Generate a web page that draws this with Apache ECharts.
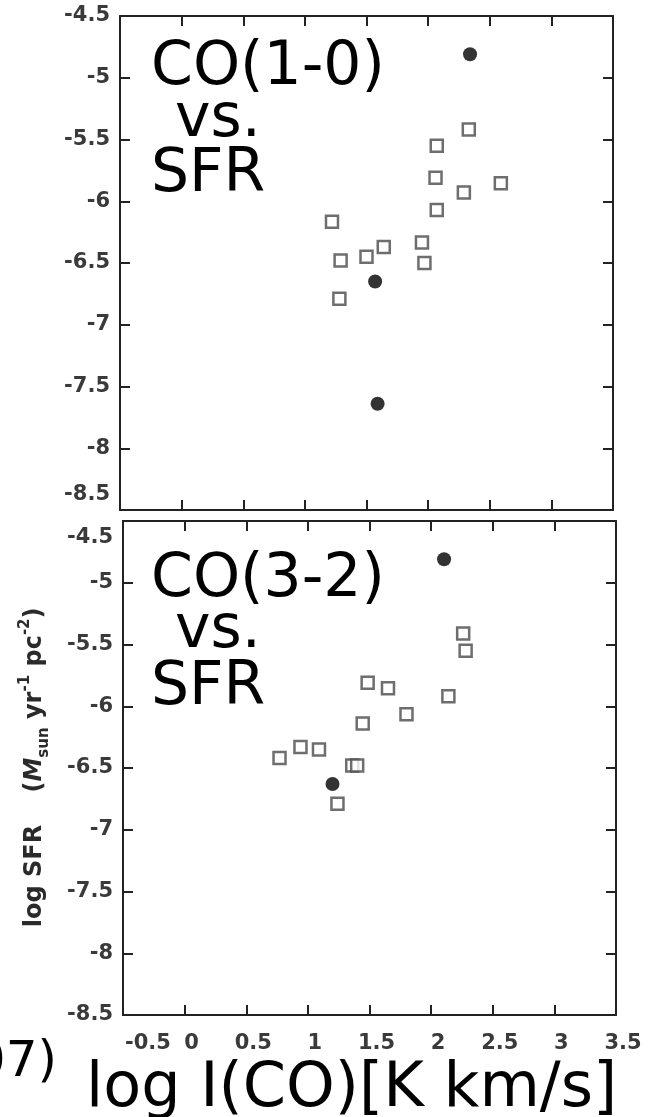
<!DOCTYPE html>
<html>
<head>
<meta charset="utf-8">
<script src="https://cdn.jsdelivr.net/npm/echarts@6/dist/echarts.min.js"></script>
<style>html,body{margin:0;padding:0;background:#fff}#c{width:655px;height:1117px}</style>
</head>
<body>
<div id="c"></div>
<script>
// ---- data (log I(CO) [K km/s], log SFR) ----
const co10Squares = [[2.33,-5.42],[2.07,-5.55],[2.06,-5.81],[2.29,-5.93],[2.59,-5.855],[2.07,-6.07],[1.22,-6.165],[1.95,-6.335],[1.97,-6.50],[1.64,-6.37],[1.50,-6.45],[1.29,-6.48],[1.28,-6.79]];
const co10Circles = [[2.34,-4.81],[1.57,-6.65],[1.59,-7.64]];
const co32Squares = [[0.77,-6.42],[0.94,-6.33],[1.09,-6.35],[1.445,-6.14],[1.485,-5.81],[1.65,-5.855],[1.80,-6.065],[2.14,-5.92],[2.26,-5.41],[2.28,-5.55],[1.36,-6.48],[1.40,-6.48],[1.24,-6.79]];
const co32Circles = [[2.105,-4.81],[1.20,-6.63]];
const xTicks = [-0.5,0,0.5,1,1.5,2,2.5,3,3.5];
const yTicks = [-8.5,-8,-7.5,-7,-6.5,-6,-5.5,-5,-4.5];

const chart = echarts.init(document.getElementById('c'), null, {renderer:'canvas', width:655, height:1117});
const LINE = {color:'#222', width:2};
const FONT = 'DejaVu Sans';
const LC = '#3a3a3a';
function frameAxis(grid, pos, isX, labelOpt){
  const o = {
    gridIndex: grid, type:'value', position: pos,
    min: isX ? xTicks[0] : yTicks[0], max: isX ? xTicks[xTicks.length-1] : yTicks[yTicks.length-1],
    interval: 0.5,
    axisLine:{show:true, onZero:false, lineStyle:LINE},
    axisTick:{show:true, inside:true, length:10, lineStyle:LINE},
    splitLine:{show:false},
    axisLabel:{show:false}
  };
  if (labelOpt) o.axisLabel = labelOpt;
  return o;
}
const tok = (extra) => Object.assign({fontFamily:FONT, fontSize:21, fontWeight:'bold', color:LC}, extra||{});
const yLab = (panel) => ({
  show:true, margin:10, color:LC, fontFamily:FONT, fontSize:21, fontWeight:'bold',
  formatter: function(v){
    const s = String(v);
    if (panel===0 && v===yTicks[0]) return '{up|'+s+'}';
    if (panel===1 && v===yTicks[yTicks.length-1]) return '{dn|'+s+'}';
    return s;
  },
  rich:{
    up: tok({padding:[0,0,30,0]}),
    dn: tok({padding:[34,0,0,0]})
  }
});
const xLab = {
  show:true, margin:18, color:LC, fontFamily:FONT, fontSize:21, fontWeight:'bold',
  formatter: function(v){
    if (v===xTicks[0]) return '{f|'+v+'}';
    return '{n|'+v+'}';
  },
  rich:{
    n: tok({padding:[0,0,0,14]}),
    f: tok({padding:[0,0,0,50]})
  }
};
const sq = {symbol:'rect', symbolSize:12, itemStyle:{color:'#fff', borderColor:'#4a4a4a', borderWidth:2.5}};
const ci = {symbol:'circle', symbolSize:14, itemStyle:{color:'#000'}};
const bigText = (t, x, y) => ({type:'text', x:x, y:y, style:{text:t, fill:'#000', font:'60px "DejaVu Sans"', align:'left', verticalAlign:'middle'}});

chart.setOption({
  animation:false,
  backgroundColor:'#fff',
  grid:[
    {left:120, top:16, width:493, height:494},
    {left:123, top:521, width:493, height:494}
  ],
  xAxis:[
    frameAxis(0,'bottom',true), frameAxis(0,'top',true),
    frameAxis(1,'bottom',true,xLab), frameAxis(1,'top',true)
  ],
  yAxis:[
    frameAxis(0,'left',false,yLab(0)), frameAxis(0,'right',false),
    frameAxis(1,'left',false,yLab(1)), frameAxis(1,'right',false)
  ],
  series:[
    Object.assign({type:'scatter', name:'CO(1-0) squares', xAxisIndex:0, yAxisIndex:0, data:co10Squares}, sq),
    Object.assign({type:'scatter', name:'CO(1-0) circles', xAxisIndex:0, yAxisIndex:0, data:co10Circles}, ci),
    Object.assign({type:'scatter', name:'CO(3-2) squares', xAxisIndex:2, yAxisIndex:2, data:co32Squares}, sq),
    Object.assign({type:'scatter', name:'CO(3-2) circles', xAxisIndex:2, yAxisIndex:2, data:co32Circles}, ci)
  ],
  graphic:[
    bigText('CO(1-0)', 151, 68), bigText('vs.', 175, 120), bigText('SFR', 151, 175),
    bigText('CO(3-2)', 151, 580), bigText('vs.', 175, 631), bigText('SFR', 151, 688),
    {type:'text', x:86, y:1090, style:{text:'log I(CO)[K km/s]', fill:'#000', font:'62px "DejaVu Sans"', align:'left', verticalAlign:'middle'}},
    {type:'text', x:57, y:1063, style:{text:'(2007)', fill:'#000', font:'50px "DejaVu Sans"', align:'right', verticalAlign:'middle'}},
    {type:'text', x:35, y:876, rotation:Math.PI/2, style:{text:'log SFR', fill:'#2a2a2a', font:'bold 24px "DejaVu Sans"', align:'center', verticalAlign:'middle'}},
    {type:'text', x:35, y:700, rotation:Math.PI/2, style:{
      text:'{a|(}{i|M}{s|sun}{a| yr}{p|-1}{a| pc}{p|-2}{a|)}',
      align:'center', verticalAlign:'middle', fill:'#2a2a2a',
      rich:{
        a:{fontFamily:FONT, fontSize:24, fontWeight:'bold', lineHeight:34, color:'#2a2a2a'},
        i:{fontFamily:FONT, fontSize:24, fontWeight:'bold', lineHeight:34, fontStyle:'italic', color:'#2a2a2a'},
        s:{fontFamily:FONT, fontSize:15, fontWeight:'bold', lineHeight:15, verticalAlign:'bottom', color:'#2a2a2a'},
        p:{fontFamily:FONT, fontSize:15, fontWeight:'bold', lineHeight:15, verticalAlign:'top', color:'#2a2a2a'}
      }
    }}
  ]
});
</script>
</body>
</html>
